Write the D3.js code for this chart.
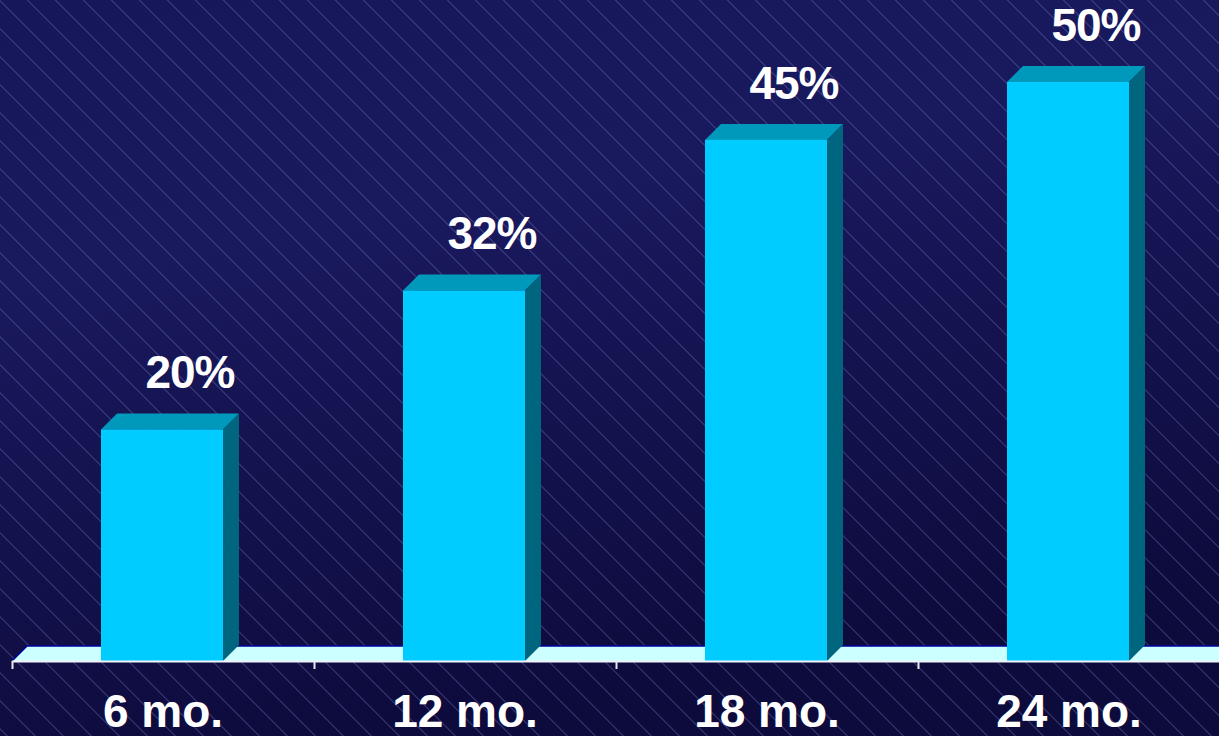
<!DOCTYPE html>
<html>
<head>
<meta charset="utf-8">
<script src="https://cdn.jsdelivr.net/npm/d3@7"></script>
<style>
  html, body { margin: 0; padding: 0; background: #121250; overflow: hidden; }
  svg { display: block; }
</style>
</head>
<body>
<svg id="chart" width="1219" height="736"></svg>
<script>
const categories = ["6 mo.", "12 mo.", "18 mo.", "24 mo."];
const values = [20, 32, 45, 50];
const valueLabels = ["20%", "32%", "45%", "50%"];

const W = 1219, H = 736;
const svg = d3.select("#chart");
const defs = svg.append("defs");

const bg = defs.append("linearGradient").attr("id", "bg")
  .attr("x1", "0").attr("y1", "0").attr("x2", "0.3").attr("y2", "1");
bg.append("stop").attr("offset", "0").attr("stop-color", "#16165a");
bg.append("stop").attr("offset", "0.35").attr("stop-color", "#19195e");
bg.append("stop").attr("offset", "1").attr("stop-color", "#0d0b3c");

const pat = defs.append("pattern").attr("id", "hatch")
  .attr("patternUnits", "userSpaceOnUse")
  .attr("width", 40).attr("height", 19.8)
  .attr("patternTransform", "rotate(45)");
pat.append("line").attr("x1", 0).attr("x2", 40).attr("y1", 0.5).attr("y2", 0.5)
  .attr("stroke", "#8a8ad0").attr("stroke-opacity", 0.38).attr("stroke-width", 1);

svg.append("rect").attr("width", W).attr("height", H).attr("fill", "url(#bg)");
svg.append("rect").attr("width", W).attr("height", H).attr("fill", "url(#hatch)");

const baseY = 661, depth = 16;
const x = d3.scaleBand().domain(categories).range([12, 1220]).padding(0);
const y = d3.scaleLinear().domain([0, 50]).range([baseY, 82]);
const barW = x.bandwidth() * 0.404;

// floor
const fd = 15;
svg.append("path")
  .attr("d", `M${x.range()[0]},${baseY} L${x.range()[0] + fd},${baseY - fd} L${W + 5},${baseY - fd} L${W + 5},${baseY} Z`)
  .attr("fill", "#ccffff");
svg.append("path")
  .attr("d", `M${x.range()[0]},${baseY} L${x.range()[0] + fd},${baseY - fd} L${W + 5},${baseY - fd}`)
  .attr("fill", "none").attr("stroke", "#0000a0").attr("stroke-width", 1.5);

const g = svg.append("g");
const bars = g.selectAll("g.bar").data(categories).enter().append("g").attr("class", "bar");

bars.each(function(c, i) {
  const el = d3.select(this);
  const x0 = x(c) + (x.bandwidth() - barW) / 2 - 1;
  const x1 = x0 + barW;
  const yt = y(values[i]);
  // top
  el.append("path")
    .attr("d", `M${x0},${yt} L${x0 + depth},${yt - depth} L${x1 + depth},${yt - depth} L${x1},${yt} Z`)
    .attr("fill", "#0099bb");
  // side
  el.append("path")
    .attr("d", `M${x1},${yt} L${x1 + depth},${yt - depth} L${x1 + depth},${baseY - depth} L${x1},${baseY} Z`)
    .attr("fill", "#006680");
  // front
  el.append("rect")
    .attr("x", x0).attr("y", yt).attr("width", barW).attr("height", baseY - yt)
    .attr("fill", "#00ccff");
  // value label
  el.append("text")
    .attr("x", x0 + barW / 2 + 28)
    .attr("y", yt - depth - 25)
    .attr("text-anchor", "middle")
    .attr("font-family", "'Liberation Sans', Arial, sans-serif")
    .attr("font-weight", "bold")
    .attr("font-size", 46)
    .attr("letter-spacing", -1)
    .attr("fill", "#ffffff")
    .text(valueLabels[i]);
});

// axis baseline
svg.append("line").attr("x1", x.range()[0]).attr("x2", W + 5)
  .attr("y1", baseY + 0.5).attr("y2", baseY + 0.5)
  .attr("stroke", "#f2f2f8").attr("stroke-width", 2);

const tickX = categories.map(c => x(c)).concat([x.range()[1]]);
svg.selectAll("line.tick").data(tickX).enter().append("line")
  .attr("class", "tick")
  .attr("x1", d => d + 0.5).attr("x2", d => d + 0.5)
  .attr("y1", baseY).attr("y2", baseY + 8)
  .attr("stroke", "#e8e8f0").attr("stroke-width", 2);

svg.selectAll("text.cat").data(categories).enter().append("text")
  .attr("class", "cat")
  .attr("x", d => x(d) + x.bandwidth() / 2)
  .attr("y", 727)
  .attr("text-anchor", "middle")
  .attr("font-family", "'Liberation Sans', Arial, sans-serif")
  .attr("font-weight", "bold")
  .attr("font-size", 46)
  .attr("fill", "#ffffff")
  .text(d => d);
</script>
</body>
</html>
